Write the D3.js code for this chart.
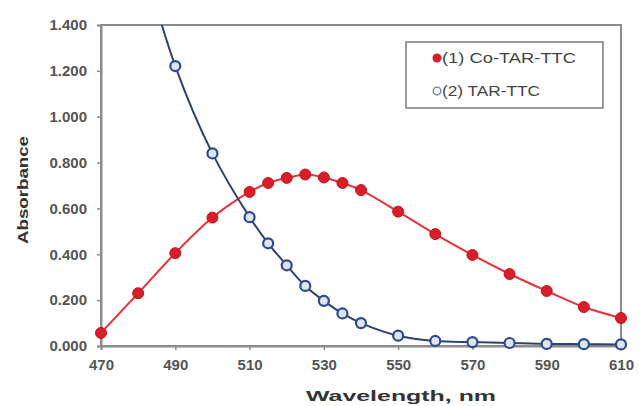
<!DOCTYPE html>
<html>
<head>
<meta charset="utf-8">
<script src="https://cdn.jsdelivr.net/npm/d3@7"></script>
<style>
  html, body { margin: 0; padding: 0; background: #fff; }
  svg { display: block; }
</style>
</head>
<body>
<div id="chart"></div>
<script>
var wavelengths = [470, 480, 490, 500, 510, 515, 520, 525, 530, 535, 540, 550, 560, 570, 580, 590, 600, 610];
var coTarTtc = [0.057, 0.230, 0.405, 0.560, 0.672, 0.711, 0.733, 0.748, 0.735, 0.711, 0.680, 0.586, 0.488, 0.397, 0.314, 0.240, 0.170, 0.122];
var tarTtcWl = [480, 490, 500, 510, 515, 520, 525, 530, 535, 540, 550, 560, 570, 580, 590, 600, 610];
var tarTtc = [1.76, 1.221, 0.840, 0.562, 0.448, 0.352, 0.262, 0.197, 0.142, 0.100, 0.045, 0.022, 0.017, 0.013, 0.009, 0.008, 0.007];
var xTicks = [470, 490, 510, 530, 550, 570, 590, 610];
var yTicks = [0, 0.2, 0.4, 0.6, 0.8, 1.0, 1.2, 1.4];
var legendLabels = ["(1) Co-TAR-TTC", "(2) TAR-TTC"];

var width = 639, height = 406;
var plotLeft = 101, plotRight = 621, plotTop = 25, plotBottom = 346;

var svg = d3.select("#chart").append("svg")
    .attr("width", width)
    .attr("height", height);

var x = d3.scaleLinear().domain([470, 610]).range([plotLeft, plotRight]);
var y = d3.scaleLinear().domain([0, 1.4]).range([plotBottom, plotTop]);

svg.append("clipPath").attr("id", "plot")
  .append("rect")
    .attr("x", plotLeft).attr("y", plotTop)
    .attr("width", plotRight - plotLeft).attr("height", plotBottom - plotTop);

// plot frame
svg.append("rect")
    .attr("x", plotLeft).attr("y", plotTop)
    .attr("width", plotRight - plotLeft).attr("height", plotBottom - plotTop)
    .attr("fill", "none")
    .attr("stroke", "#8c8c8c")
    .attr("stroke-width", 2);

var yAxis = svg.append("g")
    .attr("transform", "translate(" + plotLeft + ",0)")
    .call(d3.axisLeft(y).tickValues(yTicks).tickFormat(d3.format(".3f")).tickSize(4).tickPadding(10));
var xAxis = svg.append("g")
    .attr("transform", "translate(0," + plotBottom + ")")
    .call(d3.axisBottom(x).tickValues(xTicks).tickSize(4).tickPadding(9));

[yAxis, xAxis].forEach(function(g) {
    g.select(".domain").attr("stroke", "#8c8c8c").attr("stroke-width", 2);
    g.selectAll(".tick line").attr("stroke", "#8c8c8c").attr("stroke-width", 1.5);
    g.selectAll(".tick text")
        .attr("fill", "#555")
        .style("font-family", "'Liberation Sans', Arial, sans-serif")
        .style("font-weight", "bold")
        .style("font-size", "15px");
});

// axis titles
svg.append("text")
    .attr("transform", "translate(28,190) rotate(-90)")
    .attr("text-anchor", "middle")
    .attr("textLength", 108)
    .attr("lengthAdjust", "spacingAndGlyphs")
    .attr("fill", "#333")
    .style("font-family", "'Liberation Sans', Arial, sans-serif")
    .style("font-weight", "bold")
    .style("font-size", "14px")
    .text("Absorbance");

svg.append("text")
    .attr("x", 401).attr("y", 401)
    .attr("text-anchor", "middle")
    .attr("textLength", 190)
    .attr("lengthAdjust", "spacingAndGlyphs")
    .attr("fill", "#333")
    .style("font-family", "'Liberation Sans', Arial, sans-serif")
    .style("font-weight", "bold")
    .style("font-size", "14px")
    .text("Wavelength, nm");

var line = d3.line().curve(d3.curveCatmullRom.alpha(0.5));
var plot = svg.append("g").attr("clip-path", "url(#plot)");

var redPts = wavelengths.map(function(w, i) { return [x(w), y(coTarTtc[i])]; });
var bluePts = tarTtcWl.map(function(w, i) { return [x(w), y(tarTtc[i])]; });

plot.append("path")
    .attr("d", line(redPts))
    .attr("fill", "none")
    .attr("stroke", "#e5333a")
    .attr("stroke-width", 2);

plot.append("path")
    .attr("d", line(bluePts))
    .attr("fill", "none")
    .attr("stroke", "#2d4273")
    .attr("stroke-width", 2);

// markers are drawn unclipped, but only for points inside the value range
var inRange = function(d) { return d[1] >= plotTop; };

svg.selectAll("circle.red").data(redPts.filter(inRange)).enter().append("circle")
    .attr("class", "red")
    .attr("cx", function(d) { return d[0]; })
    .attr("cy", function(d) { return d[1]; })
    .attr("r", 5.5)
    .attr("fill", "#d81e28")
    .attr("stroke", "#c4161f")
    .attr("stroke-width", 1);

svg.selectAll("circle.blue").data(bluePts.filter(inRange)).enter().append("circle")
    .attr("class", "blue")
    .attr("cx", function(d) { return d[0]; })
    .attr("cy", function(d) { return d[1]; })
    .attr("r", 5)
    .attr("fill", "#dfe4f0")
    .attr("stroke", "#2c4a8e")
    .attr("stroke-width", 2.2);

// legend
var legend = svg.append("g");
legend.append("rect")
    .attr("x", 406).attr("y", 42)
    .attr("width", 197).attr("height", 66)
    .attr("fill", "#fff")
    .attr("stroke", "#7a7a7a")
    .attr("stroke-width", 1.5);

legend.append("circle")
    .attr("cx", 437).attr("cy", 58).attr("r", 4.5)
    .attr("fill", "#d81e28");
legend.append("circle")
    .attr("cx", 437).attr("cy", 91).attr("r", 3.8)
    .attr("fill", "#fff")
    .attr("stroke", "#6a7db0")
    .attr("stroke-width", 1.3);

legend.selectAll("text").data(legendLabels).enter().append("text")
    .attr("x", 442)
    .attr("y", function(d, i) { return 63 + i * 33; })
    .attr("textLength", function(d, i) { return i === 0 ? 134 : 98; })
    .attr("lengthAdjust", "spacingAndGlyphs")
    .attr("fill", "#444")
    .style("font-family", "'Liberation Sans', Arial, sans-serif")
    .style("font-size", "14px")
    .text(function(d) { return d; });
</script>
</body>
</html>
